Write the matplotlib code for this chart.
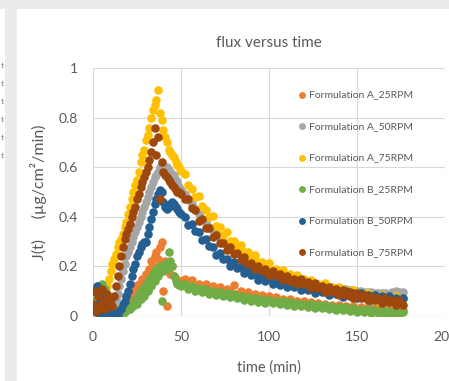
import matplotlib
matplotlib.use("Agg")
import matplotlib.pyplot as plt
from matplotlib.patches import Rectangle

# sampling times (min)
time_min = [0, 1, 2, 3, 4, 5, 6, 7, 8, 9, 10, 11, 12, 13, 14, 15, 16, 17, 18, 19,
            20, 21, 22, 23, 24, 25, 26, 27, 28, 29, 30, 31, 32, 33, 34, 35, 36, 37, 38, 39,
            40, 41, 42, 43, 44, 45, 46, 47, 48, 49, 50,
            52, 54, 56, 58, 60, 62, 64, 66, 68, 70, 72, 74, 76, 78, 80, 82, 84, 86, 88, 90,
            92, 94, 96, 98, 100, 102, 104, 106, 108, 110, 112, 114, 116, 118, 120, 122, 124,
            126, 128, 130, 132, 134, 136, 138, 140, 142, 144, 146, 148, 150, 152, 154, 156,
            158, 160, 162, 164, 166, 168, 170, 172, 174, 176]

# flux J(t), ug/cm2/min
form_a_25 = [0.03, 0.05, 0.01, 0.04, 0.06, 0.02, 0.04, 0.01, 0.03, 0.05,
             0.02, 0.01, 0.03, 0.02, 0.01, 0.03, 0.02, 0.04, 0.05, 0.06,
             0.08, 0.07, 0.10, 0.09, 0.12, 0.10, 0.13, 0.12, 0.15, 0.14,
             0.17, 0.16, 0.19, 0.22, 0.20, 0.24, 0.26, 0.23, 0.28, 0.30,
             0.10, 0.22, 0.04, 0.19, 0.17, 0.20, 0.16, 0.15, 0.145, 0.14, 0.14,
             0.15, 0.13, 0.145, 0.12, 0.13, 0.115, 0.13, 0.11, 0.12, 0.105,
             0.115, 0.10, 0.11, 0.095, 0.125, 0.09, 0.10, 0.085, 0.095, 0.08,
             0.09, 0.075, 0.085, 0.07, 0.08, 0.065, 0.075, 0.06, 0.07, 0.058,
             0.068, 0.055, 0.062, 0.05, 0.06, 0.048, 0.056, 0.045, 0.052, 0.042,
             0.05, 0.04, 0.046, 0.038, 0.044, 0.035, 0.042, 0.033, 0.04, 0.03,
             0.038, 0.028, 0.035, 0.027, 0.033, 0.025, 0.031, 0.024, 0.03, 0.022,
             0.028, 0.02, 0.026]
form_a_50 = [0.03, 0.06, 0.02, 0.07, 0.04, 0.02, 0.05, 0.03, 0.06, 0.02,
             0.04, 0.03, 0.05, 0.07, 0.09, 0.12, 0.15, 0.18, 0.21, 0.24,
             0.26, 0.28, 0.30, 0.32, 0.34, 0.36, 0.38, 0.40, 0.42, 0.44,
             0.46, 0.48, 0.50, 0.52, 0.54, 0.56, 0.57, 0.58, 0.60, 0.60,
             0.61, 0.60, 0.60, 0.59, 0.58, 0.57, 0.57, 0.55, 0.54, 0.52, 0.51,
             0.49, 0.47, 0.45, 0.43, 0.41, 0.39, 0.375, 0.36, 0.345, 0.33,
             0.315, 0.30, 0.288, 0.276, 0.265, 0.254, 0.244, 0.234, 0.225, 0.216,
             0.208, 0.20, 0.193, 0.186, 0.18, 0.175, 0.17, 0.165, 0.16, 0.156,
             0.152, 0.148, 0.144, 0.14, 0.137, 0.134, 0.131, 0.128, 0.125, 0.122,
             0.119, 0.117, 0.115, 0.113, 0.111, 0.109, 0.107, 0.105, 0.103, 0.101,
             0.099, 0.098, 0.096, 0.095, 0.094, 0.093, 0.092, 0.091, 0.09, 0.095,
             0.1, 0.098, 0.095]
form_a_75 = [0.04, 0.08, 0.03, 0.06, 0.10, 0.05, 0.08, 0.12, 0.12, 0.15,
             0.18, 0.21, 0.23, 0.25, 0.28, 0.30, 0.31, 0.33, 0.36, 0.38,
             0.41, 0.44, 0.47, 0.50, 0.53, 0.55, 0.58, 0.62, 0.65, 0.67,
             0.71, 0.73, 0.76, 0.80, 0.83, 0.85, 0.87, 0.91, 0.82, 0.79,
             0.75, 0.72, 0.70, 0.67, 0.66, 0.65, 0.64, 0.62, 0.61, 0.60, 0.585,
             0.572, 0.527, 0.514, 0.478, 0.482, 0.442, 0.429, 0.398, 0.402, 0.362,
             0.359, 0.328, 0.337, 0.302, 0.304, 0.278, 0.287, 0.257, 0.259, 0.233,
             0.247, 0.217, 0.219, 0.198, 0.212, 0.187, 0.189, 0.168, 0.187, 0.162,
             0.169, 0.148, 0.167, 0.137, 0.149, 0.118, 0.147, 0.117, 0.129, 0.113,
             0.132, 0.107, 0.116, 0.096, 0.117, 0.094, 0.104, 0.083, 0.104, 0.082,
             0.092, 0.074, 0.092, 0.07, 0.08, 0.062, 0.084, 0.062, 0.072, 0.058,
             0.08, 0.058, 0.069]
form_b_25 = [0.06, 0.10, 0.04, 0.12, 0.08, 0.13, 0.05, 0.11, 0.03, 0.07,
             0.02, 0.04, 0.01, 0.02, 0.00, 0.01, 0.02, 0.01, 0.03, 0.02,
             0.04, 0.03, 0.05, 0.04, 0.07, 0.05, 0.09, 0.07, 0.11, 0.08,
             0.13, 0.10, 0.15, 0.12, 0.17, 0.14, 0.19, 0.16, 0.20, 0.06,
             0.18, 0.21, 0.19, 0.26, 0.22, 0.20, 0.16, 0.14, 0.13, 0.125, 0.12,
             0.128, 0.108, 0.12, 0.1, 0.114, 0.096, 0.108, 0.09, 0.102, 0.086,
             0.098, 0.08, 0.093, 0.076, 0.088, 0.072, 0.082, 0.066, 0.078, 0.062,
             0.073, 0.058, 0.069, 0.054, 0.066, 0.051, 0.062, 0.048, 0.059, 0.046,
             0.056, 0.042, 0.053, 0.039, 0.05, 0.036, 0.048, 0.033, 0.045, 0.031,
             0.043, 0.028, 0.04, 0.026, 0.037, 0.023, 0.035, 0.021, 0.032, 0.018,
             0.03, 0.016, 0.028, 0.014, 0.026, 0.012, 0.024, 0.01, 0.022, 0.009,
             0.02, 0.008, 0.018]
form_b_50 = [0.10, 0.02, 0.12, 0.05, 0.00, 0.07, 0.03, 0.09, 0.01, 0.04,
             0.02, 0.00, 0.01, 0.00, 0.01, 0.02, 0.03, 0.05, 0.06, 0.08,
             0.10, 0.13, 0.16, 0.19, 0.21, 0.24, 0.26, 0.28, 0.29, 0.30,
             0.30, 0.33, 0.36, 0.39, 0.42, 0.45, 0.47, 0.49, 0.51, 0.50,
             0.46, 0.44, 0.43, 0.44, 0.45, 0.46, 0.45, 0.44, 0.43, 0.42, 0.41,
             0.398, 0.365, 0.372, 0.341, 0.338, 0.305, 0.312, 0.281, 0.278, 0.245,
             0.255, 0.228, 0.23, 0.203, 0.216, 0.192, 0.197, 0.172, 0.187, 0.165,
             0.171, 0.147, 0.164, 0.143, 0.151, 0.129, 0.147, 0.127, 0.136, 0.115,
             0.134, 0.115, 0.124, 0.103, 0.122, 0.104, 0.114, 0.094, 0.114, 0.096,
             0.106, 0.086, 0.106, 0.088, 0.098, 0.078, 0.099, 0.081, 0.092, 0.072,
             0.092, 0.075, 0.085, 0.066, 0.086, 0.068, 0.079, 0.059, 0.08, 0.062,
             0.072, 0.053, 0.074]
form_b_75 = [0.05, 0.10, 0.02, 0.08, 0.04, 0.11, 0.06, 0.03, 0.09, 0.05,
             0.07, 0.04, 0.08, 0.12, 0.16, 0.20, 0.24, 0.28, 0.31, 0.33,
             0.35, 0.37, 0.40, 0.42, 0.44, 0.47, 0.49, 0.52, 0.54, 0.56,
             0.58, 0.60, 0.63, 0.66, 0.70, 0.76, 0.65, 0.72, 0.47, 0.62,
             0.58, 0.57, 0.56, 0.55, 0.54, 0.53, 0.52, 0.51, 0.50, 0.50, 0.49,
             0.47, 0.472, 0.436, 0.428, 0.385, 0.392, 0.356, 0.353, 0.32, 0.327,
             0.296, 0.293, 0.265, 0.277, 0.251, 0.253, 0.225, 0.237, 0.211, 0.213,
             0.19, 0.202, 0.181, 0.188, 0.165, 0.182, 0.161, 0.168, 0.145, 0.162,
             0.143, 0.151, 0.13, 0.149, 0.129, 0.136, 0.114, 0.132, 0.112, 0.12,
             0.098, 0.117, 0.098, 0.107, 0.086, 0.105, 0.086, 0.095, 0.074, 0.093,
             0.074, 0.084, 0.063, 0.082, 0.064, 0.074, 0.054, 0.074, 0.056, 0.066,
             0.045, 0.065, 0.046]

series = [form_a_25, form_a_50, form_a_75, form_b_25, form_b_50, form_b_75]
labels = ["Formulation A_25RPM", "Formulation A_50RPM", "Formulation A_75RPM",
          "Formulation B_25RPM", "Formulation B_50RPM", "Formulation B_75RPM"]
colors = ["#ED7D31", "#A5A5A5", "#FFC000", "#70AD47", "#255E91", "#9E480E"]

x_ticks = [0, 50, 100, 150, 200]
y_ticks = [0, 0.2, 0.4, 0.6, 0.8, 1]
y_tick_labels = ["0", "0.2", "0.4", "0.6", "0.8", "1"]

plt.rcParams["font.family"] = ["Lato", "DejaVu Sans"]
text_color = "#595959"
grid_color = "#D9D9D9"

fig = plt.figure(figsize=(4.49, 3.81), dpi=100)
fig.patch.set_facecolor("white")

# window chrome around the chart
fig.patches.append(Rectangle((0, 1 - 9 / 381), 1, 9 / 381, transform=fig.transFigure,
                             facecolor="#EBEBEB", edgecolor="none", zorder=0))
fig.patches.append(Rectangle((5 / 449, 0), 12 / 449, 1, transform=fig.transFigure,
                             facecolor="#EBEBEB", edgecolor="none", zorder=0))
for k in range(6):
    fig.text(4 / 449, 1 - (66 + 18 * k) / 381, "t", fontsize=6, color="#777777",
             ha="right", va="center")

ax = fig.add_axes([93 / 449, 1 - 316 / 381, 352 / 449, 248 / 381])

for vals, lab, col in zip(series, labels, colors):
    ax.scatter(time_min, vals, s=38, color=col, label=lab, linewidths=0, zorder=3)

ax.set_xlim(0, 200)
ax.set_ylim(0, 1)
ax.set_xticks(x_ticks)
ax.set_yticks(y_ticks)
ax.set_yticklabels(y_tick_labels)
ax.grid(True, color=grid_color, linewidth=0.8, zorder=0)
ax.set_axisbelow(True)
for s in ax.spines.values():
    s.set_visible(False)
ax.axhline(0, color="#BFBFBF", linewidth=0.8, zorder=1)
ax.tick_params(length=0, labelsize=10, labelcolor=text_color)
ax.tick_params(axis="y", pad=11)
ax.tick_params(axis="x", pad=11)

ax.set_title("flux versus time", fontsize=11, color=text_color, pad=15)
ax.set_xlabel("time (min)", fontsize=10.5, color=text_color, labelpad=12)
ax.set_ylabel("J(t)     (\u00b5g/cm\u00b2/min)", fontsize=11.5, color=text_color, labelpad=8)

ax.legend(loc="upper left", bbox_to_anchor=(0.58, 0.91), frameon=False, fontsize=7.5,
          labelcolor=text_color, labelspacing=2.13, handletextpad=0.1, handlelength=1.0,
          markerscale=0.8, borderpad=0, borderaxespad=0)

fig.savefig("out.png", dpi=100)
plt.close(fig)
